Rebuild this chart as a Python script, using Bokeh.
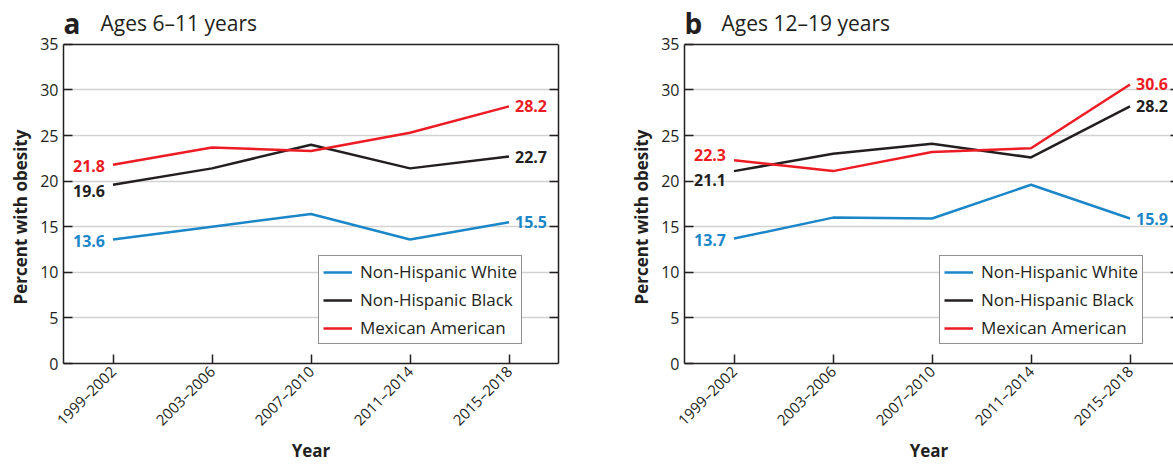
import math
from bokeh.plotting import figure
from bokeh.models import (ColumnDataSource, Range1d, FixedTicker, LinearAxis,
                          Legend, LegendItem, Span, Title)
from bokeh.layouts import row
from bokeh.embed import file_html
from bokeh.resources import INLINE
from bokeh.core.properties import value

# ---------------- data ----------------
periods = ["1999–2002", "2003–2006", "2007–2010", "2011–2014", "2015–2018"]
series_names = ["Non-Hispanic White", "Non-Hispanic Black", "Mexican American"]

a_white = [13.6, 15.0, 16.4, 13.6, 15.5]
a_black = [19.6, 21.4, 24.0, 21.4, 22.7]
a_mexican = [21.8, 23.7, 23.3, 25.3, 28.2]

b_white = [13.7, 16.0, 15.9, 19.6, 15.9]
b_black = [21.1, 23.0, 24.1, 22.6, 28.2]
b_mexican = [22.3, 21.1, 23.2, 23.6, 30.6]

y_ticks = [0, 5, 10, 15, 20, 25, 30, 35]

panel_letters = ["a", "b"]
panel_titles = ["Ages 6–11 years", "Ages 12–19 years"]
x_title = "Year"
y_title = "Percent with obesity"

# ---------------- style ----------------
FONT = "Open Sans"
INK = "#231f20"
COLORS = ["#1b87c8", "#231f20", "#ed1c24"]
GRID = "#d2d2d2"
PX_PER_CAT = 99.0
TOTAL_H = 465
TOP_PX = 44          # pixels above the 35 line (heading band)
PLOT_PX = 320        # pixels for 0..35
Y_MAX = y_ticks[-1]
PX_PER_UNIT = PLOT_PX / Y_MAX


def make_panel(letter, title, series, width, frame_w, left_border,
               start_offsets, end_offsets, last=False):
    x_end = -0.5 + frame_w / PX_PER_CAT
    y_top = Y_MAX + TOP_PX / PX_PER_UNIT
    p = figure(width=width, height=TOTAL_H,
               x_range=Range1d(-0.5, x_end),
               y_range=Range1d(0, y_top), output_backend="svg",
               toolbar_location=None, min_border_left=left_border,
               min_border_right=width - left_border - frame_w,
               min_border_top=0, min_border_bottom=101)
    p.background_fill_color = "white"
    p.border_fill_color = "white"

    xs = list(range(len(periods)))

    # axes
    p.xaxis.ticker = FixedTicker(ticks=xs)
    p.xaxis.major_label_overrides = {i: s for i, s in enumerate(periods)}
    p.xaxis.major_label_orientation = math.pi / 4
    p.yaxis.ticker = FixedTicker(ticks=y_ticks)
    p.yaxis.bounds = (0, Y_MAX)
    for ax in (p.xaxis[0], p.yaxis[0]):
        ax.major_tick_in = 9
        ax.major_tick_out = 0
        ax.minor_tick_line_color = None
        ax.axis_line_color = INK
        ax.axis_line_width = 1.5
        ax.major_tick_line_color = INK
        ax.major_tick_line_width = 1.5
        ax.major_label_text_font = FONT
        ax.major_label_text_color = INK
        ax.axis_label_text_font = FONT
        ax.axis_label_text_font_style = "bold"
        ax.axis_label_text_color = INK
        ax.axis_label_text_font_size = "17px"
    p.xaxis.major_label_text_font_size = "15px"
    p.yaxis.major_label_text_font_size = "16px"
    p.xaxis.major_label_standoff = 5
    p.yaxis.major_label_standoff = 5
    p.xaxis.axis_label = x_title
    p.xaxis.axis_label_standoff = 0

    # y-axis title, placed along the 0..35 part of the frame
    p.add_layout(Title(text=y_title, align="left", offset=59,
                       text_font=FONT, text_font_size="17px",
                       text_font_style="bold", text_color=INK,
                       standoff=12), "left")

    rax = LinearAxis(ticker=FixedTicker(ticks=y_ticks[1:-1]),
                     bounds=(0, Y_MAX))
    rax.major_tick_in = 3 if last else 9
    rax.major_tick_out = 0
    rax.minor_tick_line_color = None
    rax.major_label_text_font_size = "1px"
    rax.major_label_text_color = None
    rax.major_label_standoff = 0
    rax.major_tick_line_color = INK
    rax.major_tick_line_width = 1.5
    rax.axis_line_color = None if last else INK
    rax.axis_line_width = 1.5
    p.add_layout(rax, "right")

    p.xgrid.grid_line_color = None
    p.ygrid.ticker = FixedTicker(ticks=y_ticks[1:-1])
    p.ygrid.grid_line_color = GRID
    p.ygrid.grid_line_width = 1.5

    p.outline_line_color = None
    p.add_layout(Span(location=Y_MAX, dimension="width", line_color=INK,
                      line_width=1.5))

    # lines
    items = []
    for name, vals, col in zip(series_names, series, COLORS):
        r = p.line(xs, vals, line_color=col, line_width=2.5)
        items.append(LegendItem(label=name, renderers=[r]))

    # end labels
    for vals, col, so, eo in zip(series, COLORS, start_offsets, end_offsets):
        src = ColumnDataSource(dict(x=[xs[0]], y=[vals[0]],
                                    t=[f"{vals[0]:.1f}"]))
        p.text("x", "y", text="t", source=src, text_color=col,
               text_font=value(FONT), text_font_style="bold",
               text_font_size="16px", text_align="right",
               text_baseline="middle", x_offset=-8, y_offset=so)
        src2 = ColumnDataSource(dict(x=[xs[-1]], y=[vals[-1]],
                                     t=[f"{vals[-1]:.1f}"]))
        p.text("x", "y", text="t", source=src2, text_color=col,
               text_font=value(FONT), text_font_style="bold",
               text_font_size="16px", text_align="left",
               text_baseline="middle", x_offset=6, y_offset=eo)

    # panel heading (inside the top band of the frame)
    base_y = Y_MAX + (TOP_PX - 31.7) / PX_PER_UNIT
    p.text([-0.5], [base_y], text=[letter], text_font=value(FONT),
           text_font_style="bold", text_font_size="28px", text_color=INK,
           text_baseline="alphabetic", text_align="left", y_offset=-9)
    p.text([-0.5], [base_y], text=[title], text_font=value(FONT),
           text_font_size="21px", text_color=INK, x_offset=37, y_offset=-9,
           text_baseline="alphabetic", text_align="left")

    legend = Legend(items=items, location=(255, 19))
    legend.border_line_color = INK
    legend.border_line_width = 1.2
    legend.background_fill_alpha = 1
    legend.label_text_font = FONT
    legend.label_text_font_size = "17px"
    legend.label_text_color = INK
    legend.glyph_width = 29
    legend.glyph_height = 18
    legend.label_height = 18
    legend.label_standoff = 8
    legend.padding = 4
    legend.spacing = 5
    legend.margin = 0
    p.add_layout(legend)
    return p


pa = make_panel(panel_letters[0], panel_titles[0],
                [a_white, a_black, a_mexican],
                width=620, frame_w=495, left_border=63,
                start_offsets=[2, 6, 1], end_offsets=[0, 0, 0])
pb = make_panel(panel_letters[1], panel_titles[1],
                [b_white, b_black, b_mexican],
                width=553, frame_w=489, left_border=64,
                start_offsets=[1, 9, -5], end_offsets=[0, 0, 0], last=True)

layout = row(pa, pb)
open("out.html", "w").write(file_html(layout, INLINE))
